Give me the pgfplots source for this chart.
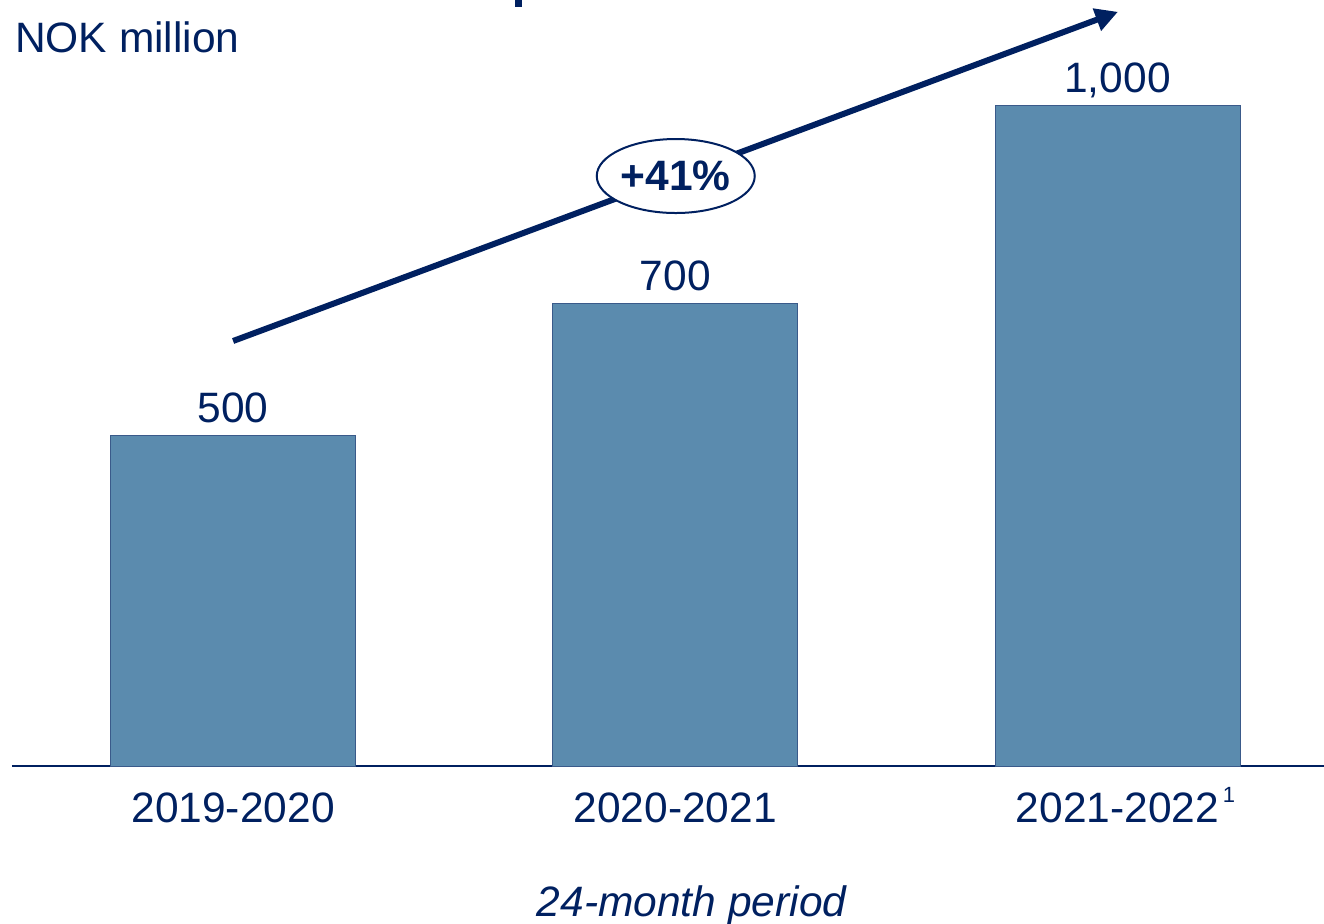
\documentclass[border=0pt]{standalone}
\usepackage{pgfplots}
\pgfplotsset{compat=1.18}
\usepackage{fontspec}
\setmainfont{Liberation Sans}
\usetikzlibrary{arrows.meta,shapes.geometric}

\definecolor{navy}{RGB}{0,32,96}
\definecolor{barfill}{RGB}{91,139,174}
\definecolor{baredge}{RGB}{58,90,138}

\begin{document}
\begin{tikzpicture}
\begin{axis}[
    scale only axis,
    width=524.8pt,
    height=306.4pt,
    xmin=-0.5, xmax=2.467,
    ymin=0, ymax=1158.9,
    axis x line=bottom,
    axis y line=none,
    axis line style={navy,line width=0.8pt,-},
    xtick=data,
    xticklabels={2019-2020,2020-2021,2021-2022\rlap{\kern1.5pt\raisebox{8pt}{\fontsize{8.8pt}{10pt}\selectfont 1}}},
    major tick length=0pt,
    xticklabel style={font=\fontsize{17pt}{20pt}\selectfont,text=navy,anchor=base,yshift=-22.4pt,inner sep=0pt},
    ybar,
    bar width=98pt,
    nodes near coords,
    every node near coord/.append style={font=\fontsize{17pt}{20pt}\selectfont,text=navy,anchor=base,inner sep=0pt,yshift=5.2pt},
    /pgf/number format/.cd,1000 sep={,},assume math mode=true,
    /pgfplots/.cd,
    clip=false,
]
\addplot[fill=barfill,draw=baredge,line width=0.4pt] coordinates {
    (0,500)
    (1,700)
    (2,1000)
};
\coordinate (bl) at (rel axis cs:0,0);
\coordinate (tr) at (rel axis cs:1,1);
% cut-off title descender at the top edge
\fill[navy] (axis cs:0.637,1148) rectangle (axis cs:0.653,1162);
\draw[navy,line width=2.4pt,-{Triangle[length=9pt,width=9pt]}] (axis cs:0,643) -- (axis cs:2.001,1141);
\node[ellipse,draw=navy,line width=0.8pt,fill=white,minimum width=63.2pt,minimum height=29.6pt,inner sep=0pt,text=navy,font=\fontsize{17pt}{20pt}\selectfont\bfseries] at (axis cs:1.001,892.6) {+41\%};
\node[anchor=base west,inner sep=0pt,text=navy,font=\fontsize{17pt}{20pt}\selectfont] at (axis cs:-0.494,1080.2) {NOK million};
\node[anchor=base,inner sep=0pt,text=navy,font=\fontsize{17pt}{20pt}\selectfont\itshape] at (axis cs:1.037,-228.4) {24-month period};
\end{axis}
\pgfresetboundingbox
\useasboundingbox ([shift={(-4.8pt,-62.8pt)}]bl) rectangle (tr);
\end{tikzpicture}
\end{document}
